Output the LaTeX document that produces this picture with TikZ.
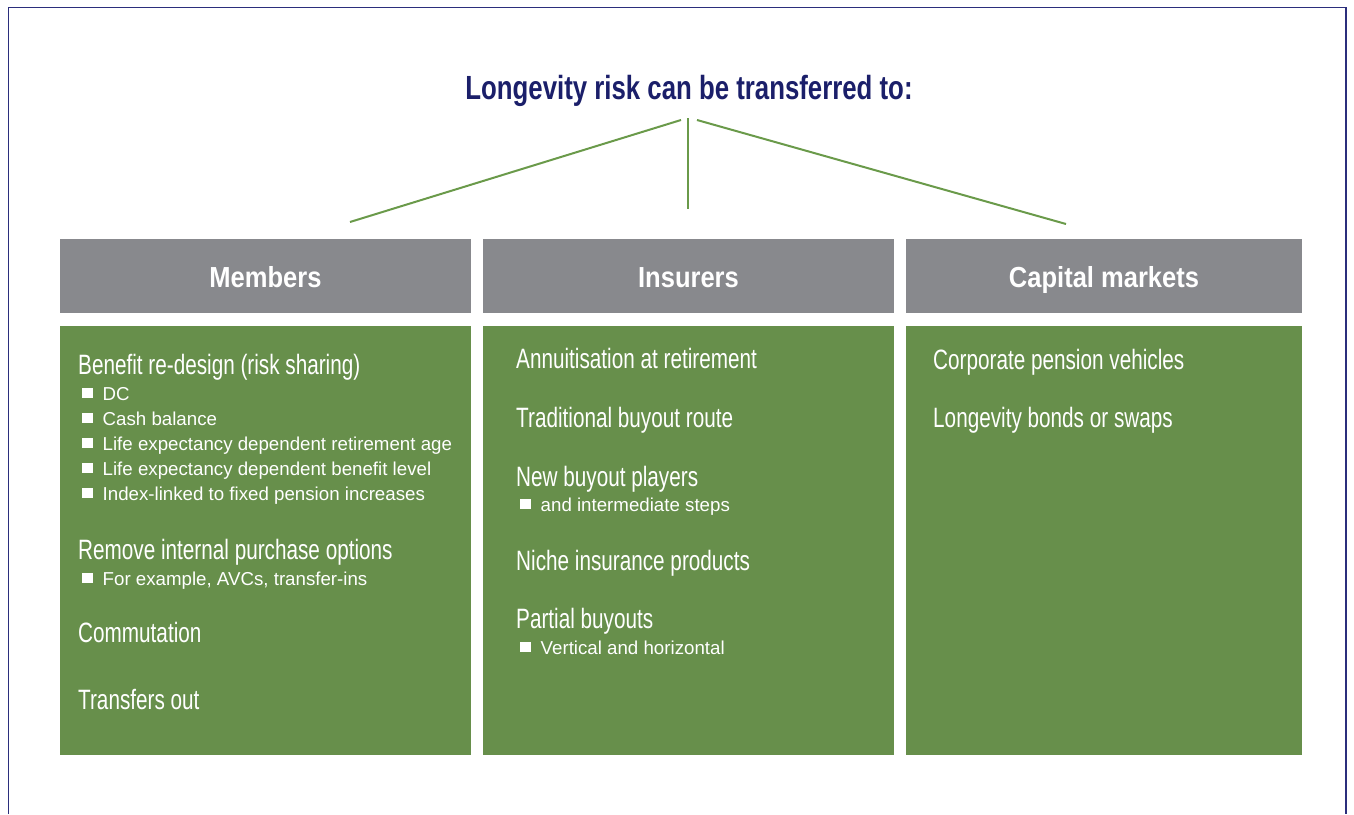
\documentclass[tikz,border=0pt]{standalone}
\usepackage{fontspec}
\setmainfont{Liberation Sans}
\newfontfamily\titlefont[FakeStretch=0.77]{Liberation Sans}
\newfontfamily\headfont[FakeStretch=0.88]{Liberation Sans}
\newfontfamily\itemfont[FakeStretch=0.74]{Liberation Sans}
\usetikzlibrary{positioning}

\definecolor{framenavy}{HTML}{2B2E7C}
\definecolor{titlenavy}{HTML}{1B1F6A}
\definecolor{linegreen}{HTML}{6A9A4A}
\definecolor{boxgreen}{HTML}{678F4B}
\definecolor{headgray}{HTML}{88898D}

% white square bullet
\newcommand{\sqbullet}{\rule[2pt]{10.5pt}{10.5pt}\hspace{10pt}}

\tikzset{
  headbox/.style={fill=headgray, text=white, minimum height=74pt, inner sep=0pt,
    text height=22pt, text depth=0pt,
    font=\headfont\bfseries\fontsize{29}{34}\selectfont},
  bodybox/.style={fill=boxgreen, minimum height=429pt, inner sep=0pt},
  mainitem/.style={anchor=base west, inner sep=0pt, text=white,
    font=\itemfont\fontsize{28}{32}\selectfont},
  subitem/.style={anchor=base west, inner sep=0pt, text=white,
    font=\fontsize{18.7}{22}\selectfont},
  link/.style={linegreen, line width=2pt}
}

\begin{document}
\begin{tikzpicture}[x=1pt, y=-1pt]
    \useasboundingbox (0,0) rectangle (1354,814);

    % open frame round the chart
    \draw[framenavy, line width=1.8pt] (8.5,814) -- (8.5,7.5) -- (1346,7.5) -- (1346,814);

    % heading
    \node[anchor=base, inner sep=0pt, text=titlenavy,
          font=\titlefont\bfseries\fontsize{33.5}{40}\selectfont] (title) at (689,99)
          {Longevity risk can be transferred to:};

    % the three routes
    \node[headbox, minimum width=411pt] (members) at (265.5,276) {Members};
    \node[headbox, minimum width=411pt] (insurers) at (688.5,276) {Insurers};
    \node[headbox, minimum width=396pt] (markets) at (1104,276) {Capital markets};

    \node[bodybox, minimum width=411pt, below=12.5pt of members] (mbody) {};
    \node[bodybox, minimum width=411pt, below=12.5pt of insurers] (ibody) {};
    \node[bodybox, minimum width=396pt, below=12.5pt of markets] (cbody) {};

    % branches from the heading
    \coordinate (tl) at (681,120);
    \coordinate (tc) at (688,118);
    \coordinate (tr) at (697,120);
    \coordinate (ml) at (350,222);
    \coordinate (ic) at (688,209);
    \coordinate (cr) at (1066,224);
    \draw[link] (tl) -- (ml);
    \draw[link] (tc) -- (ic);
    \draw[link] (tr) -- (cr);

    % Members
    \node[mainitem] (m1) at (78,374) {Benefit re-design (risk sharing)};
    \node[subitem] (m1a) at (82,400) {\sqbullet DC};
    \node[subitem] (m1b) at (82,425) {\sqbullet Cash balance};
    \node[subitem] (m1c) at (82,450) {\sqbullet Life expectancy dependent retirement age};
    \node[subitem] (m1d) at (82,475) {\sqbullet Life expectancy dependent benefit level};
    \node[subitem] (m1e) at (82,500) {\sqbullet Index-linked to fixed pension increases};
    \node[mainitem] (m2) at (78,559) {Remove internal purchase options};
    \node[subitem] (m2a) at (82,585) {\sqbullet For example, AVCs, transfer-ins};
    \node[mainitem] (m3) at (78,642) {Commutation};
    \node[mainitem] (m4) at (78,709) {Transfers out};

    % Insurers
    \node[mainitem] (i1) at (516,368) {Annuitisation at retirement};
    \node[mainitem] (i2) at (516,427) {Traditional buyout route};
    \node[mainitem] (i3) at (516,486) {New buyout players};
    \node[subitem] (i3a) at (520,511) {\sqbullet and intermediate steps};
    \node[mainitem] (i4) at (516,570) {Niche insurance products};
    \node[mainitem] (i5) at (516,628) {Partial buyouts};
    \node[subitem] (i5a) at (520,654) {\sqbullet Vertical and horizontal};

    % Capital markets
    \node[mainitem] (c1) at (933,369) {Corporate pension vehicles};
    \node[mainitem] (c2) at (933,427) {Longevity bonds or swaps};
\end{tikzpicture}
\end{document}
